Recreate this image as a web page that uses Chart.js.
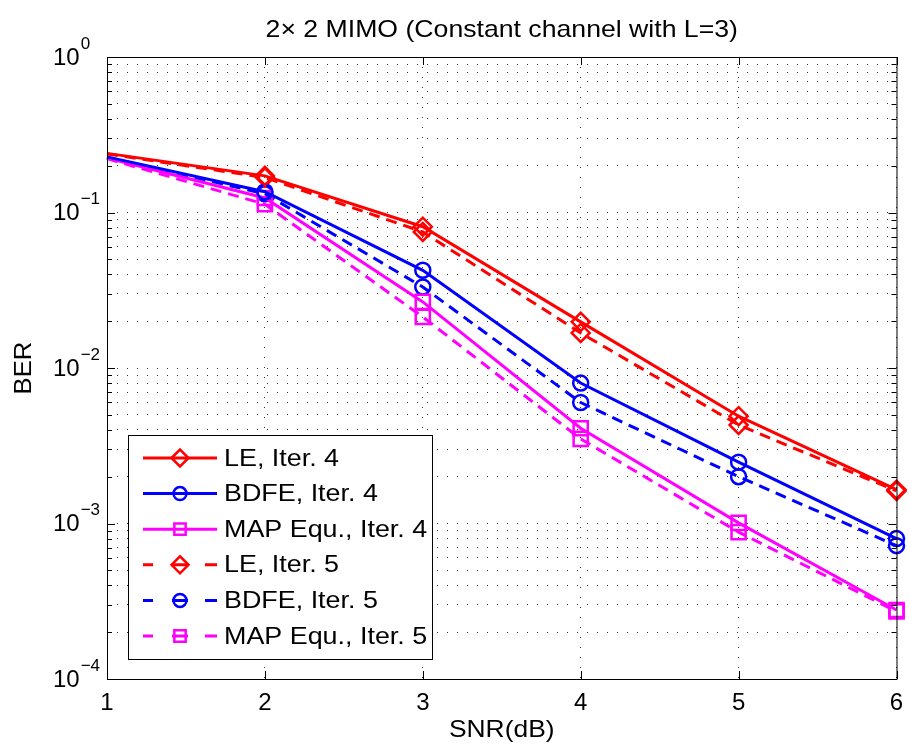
<!DOCTYPE html>
<html>
<head>
<meta charset="utf-8">
<title>2x2 MIMO BER</title>
<script src="https://cdn.jsdelivr.net/npm/chart.js@4.4.0/dist/chart.umd.min.js"></script>
<style>
  html, body { margin: 0; padding: 0; background: #fff; }
  canvas { display: block; }
</style>
</head>
<body>
<canvas id="berChart" width="909" height="746"></canvas>
<script>
// SNR points (dB) and BER curves per receiver / iteration
const snr = [1, 2, 3, 4, 5, 6];
const le4   = [0.240, 0.172, 0.081, 0.0198, 0.0049, 0.00165];
const bdfe4 = [0.228, 0.136, 0.0425, 0.0080, 0.00248, 0.00080];
const map4  = [0.224, 0.124, 0.0266, 0.0041, 0.00101, 0.000278];
const le5   = [0.238, 0.168, 0.075, 0.0168, 0.0043, 0.00162];
const bdfe5 = [0.226, 0.132, 0.0332, 0.0060, 0.0020, 0.00072];
const map5  = [0.222, 0.113, 0.0213, 0.0035, 0.00088, 0.000272];
const xTicks = [1, 2, 3, 4, 5, 6];
const yPowers = [0, -1, -2, -3, -4];

const FONT = '"Liberation Sans", Arial, Helvetica, sans-serif';
const RED = '#ff0000', BLUE = '#0000ff', MAG = '#ff00ff';
const DASH = [11, 7];

function series(label, ys, color, style, radius, dashed) {
  return {
    label: label,
    data: ys.map((y, i) => ({ x: snr[i], y: y })),
    borderColor: color,
    borderWidth: 3,
    borderDash: dashed ? DASH : [],
    pointStyle: style,
    pointRadius: ys.map((y, i) => (i === 0 ? 0 : radius)),
    pointBorderWidth: 2.5,
    pointBorderColor: color,
    pointBackgroundColor: 'rgba(0,0,0,0)',
    fill: false,
    tension: 0,
    clip: false
  };
}

const datasets = [
  series('LE, Iter. 4', le4, RED, 'rectRot', 9, false),
  series('BDFE, Iter. 4', bdfe4, BLUE, 'circle', 7.5, false),
  series('MAP Equ., Iter. 4', map4, MAG, 'rect', 10, false),
  series('LE, Iter. 5', le5, RED, 'rectRot', 9, true),
  series('BDFE, Iter. 5', bdfe5, BLUE, 'circle', 7.5, true),
  series('MAP Equ., Iter. 5', map5, MAG, 'rect', 10, true)
];

// all decade + minor values for the log grid
const logTicks = [];
for (let p = 0; p >= -4; p--) {
  for (let m = 1; m <= 9; m++) {
    const v = m * Math.pow(10, p);
    if (v <= 1 + 1e-12 && v >= 1e-4 - 1e-12) logTicks.push({ value: v });
  }
}

// text a little wider than the stock face, like the plotting font
function wideText(ctx, str, x, y, sx) {
  ctx.save();
  ctx.translate(x, y);
  ctx.scale(sx, 1);
  ctx.fillText(str, 0, 0);
  ctx.restore();
}

const decorations = {
  id: 'decorations',
  afterDraw(chart) {
    const ctx = chart.ctx;
    const a = chart.chartArea;
    const xs = chart.scales.x, ys = chart.scales.y;
    ctx.save();

    // axes box
    ctx.strokeStyle = '#000';
    ctx.lineWidth = 1;
    ctx.strokeRect(a.left + 0.5, a.top + 0.5, a.right - a.left, a.bottom - a.top);

    // inward tick marks
    ctx.beginPath();
    xTicks.forEach(v => {
      const px = Math.round(xs.getPixelForValue(v)) + 0.5;
      ctx.moveTo(px, a.bottom); ctx.lineTo(px, a.bottom - 8);
      ctx.moveTo(px, a.top); ctx.lineTo(px, a.top + 8);
    });
    logTicks.forEach(t => {
      const py = Math.round(ys.getPixelForValue(t.value)) + 0.5;
      const major = Math.abs(Math.log10(t.value) - Math.round(Math.log10(t.value))) < 1e-9;
      const len = major ? 8 : 5;
      ctx.moveTo(a.left, py); ctx.lineTo(a.left + len, py);
      ctx.moveTo(a.right, py); ctx.lineTo(a.right - len, py);
    });
    ctx.stroke();

    // y tick labels 10^p
    ctx.fillStyle = '#000';
    ctx.textBaseline = 'middle';
    ctx.textAlign = 'left';
    yPowers.forEach(p => {
      const py = ys.getPixelForValue(Math.pow(10, p));
      ctx.font = '24px ' + FONT;
      ctx.fillText('10', 53, py + 1);
      const w = ctx.measureText('10').width;
      ctx.font = '17px ' + FONT;
      ctx.fillText(p === 0 ? '0' : '\u2212' + (-p), 53 + w + 1, py - 13);
    });

    // title and axis titles
    ctx.textAlign = 'center';
    ctx.font = '24px ' + FONT;
    const cx = (a.left + a.right) / 2;
    wideText(ctx, '2\u00d7 2 MIMO (Constant channel with L=3)', cx, 30, 1.11);
    wideText(ctx, 'SNR(dB)', cx, 730, 1.1);
    ctx.save();
    ctx.translate(24, (a.top + a.bottom) / 2);
    ctx.rotate(-Math.PI / 2);
    wideText(ctx, 'BER', 0, 0, 1.07);
    ctx.restore();

    // legend
    const lx = 128, ly = 435, lw = 304, lh = 224;
    ctx.fillStyle = '#fff';
    ctx.fillRect(lx, ly, lw, lh);
    ctx.strokeStyle = '#000';
    ctx.lineWidth = 1;
    ctx.strokeRect(lx + 0.5, ly + 0.5, lw, lh);
    chart.data.datasets.forEach((ds, i) => {
      const cy = 458 + i * 35.6;
      ctx.strokeStyle = ds.borderColor;
      ctx.lineWidth = 3;
      ctx.setLineDash([]);
      ctx.beginPath();
      if (ds.borderDash.length) {
        ctx.moveTo(143, cy); ctx.lineTo(153, cy);
        ctx.moveTo(172, cy); ctx.lineTo(188, cy);
        ctx.moveTo(205, cy); ctx.lineTo(217, cy);
      } else {
        ctx.moveTo(143, cy); ctx.lineTo(217, cy);
      }
      ctx.stroke();
      ctx.lineWidth = 2.5;
      ctx.fillStyle = 'rgba(0,0,0,0)';
      Chart.helpers.drawPoint(ctx, {
        pointStyle: ds.pointStyle,
        radius: ds.pointStyle === 'rect' ? 8 : (ds.pointStyle === 'circle' ? 6.5 : 8.5),
        rotation: 0,
        borderWidth: 2.5
      }, 180, cy);
      ctx.fillStyle = '#000';
      ctx.textAlign = 'left';
      ctx.textBaseline = 'middle';
      ctx.font = '24px ' + FONT;
      wideText(ctx, ds.label, 224, cy + 1, 1.12);
    });
    ctx.restore();
  }
};

new Chart(document.getElementById('berChart').getContext('2d'), {
  type: 'line',
  data: { datasets: datasets },
  options: {
    responsive: false,
    animation: false,
    layout: { padding: { top: 57, right: 9, left: 0, bottom: 0 } },
    plugins: {
      legend: { display: false },
      title: { display: false },
      tooltip: { enabled: false }
    },
    scales: {
      x: {
        type: 'linear',
        min: 1,
        max: 6,
        afterBuildTicks: s => { s.ticks = xTicks.map(v => ({ value: v })); },
        afterFit: s => { s.height = 67; s.paddingLeft = 0; s.paddingRight = 0; },
        grid: { color: '#333', lineWidth: 1, drawTicks: false },
        border: { display: false, dash: [1, 9] },
        ticks: { color: '#000', font: { family: FONT, size: 24 }, padding: 10, maxRotation: 0 }
      },
      y: {
        type: 'logarithmic',
        min: 1e-4,
        max: 1,
        afterBuildTicks: s => { s.ticks = logTicks.map(t => ({ value: t.value })); },
        afterFit: s => { s.width = 107; s.paddingTop = 0; s.paddingBottom = 0; },
        grid: { color: '#333', lineWidth: 1, drawTicks: false },
        border: { display: false, dash: [1, 9] },
        ticks: { display: false }
      }
    }
  },
  plugins: [decorations]
});
</script>
</body>
</html>
